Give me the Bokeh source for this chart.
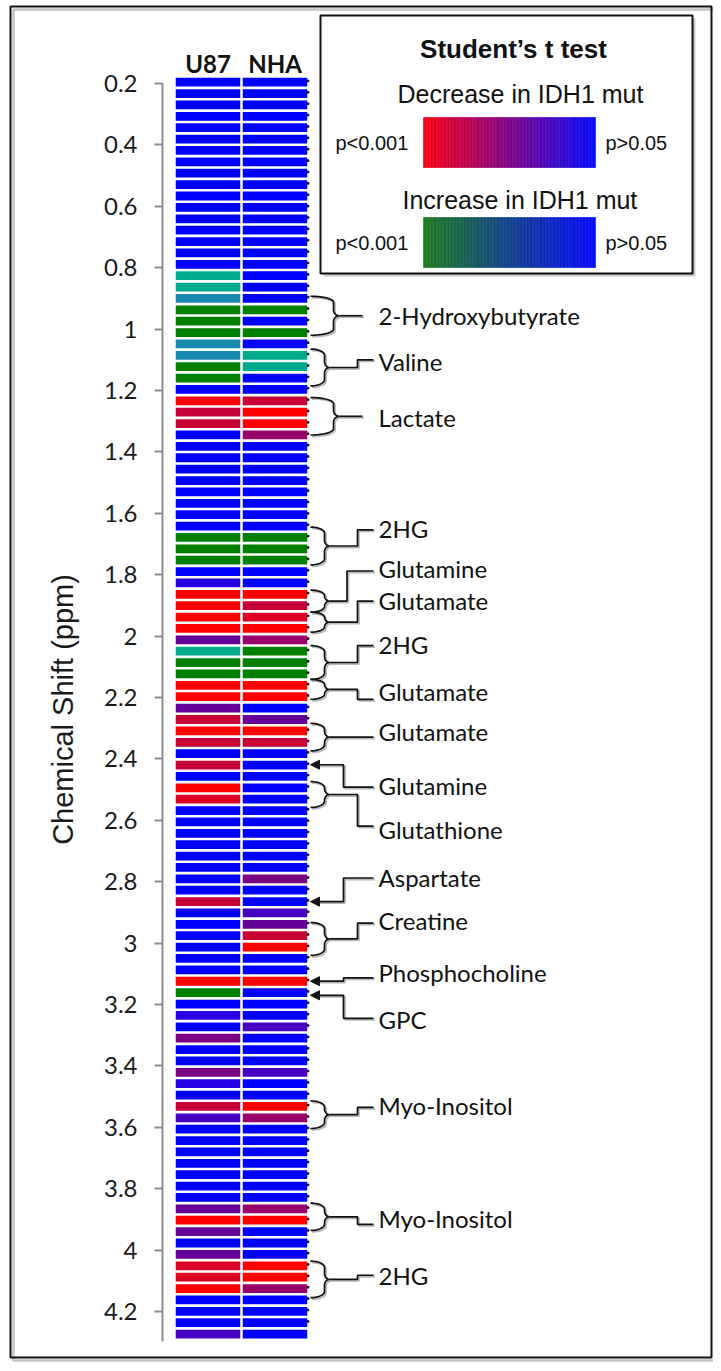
import numpy as np
from bokeh.plotting import figure
from bokeh.models import Range1d, FixedTicker, Arrow, NormalHead
from bokeh.embed import file_html
from bokeh.resources import INLINE
from bokeh.core.properties import value

# ---------------- data ----------------
samples = ["U87", "NHA"]
shift_start = 0.1772      # ppm at the upper edge of the first bucket
shift_step = 0.03707      # ppm per bucket
# significance class per bucket (top -> bottom)
u87_codes = list(
    "BBBBBBBBBB" "BBBBBBBTTS" "GGGSSGGBRC" "CBBBBBBBBB" "GGGBWRRRRP"
    "TGGRRPCRCB" "CBRDBBBBBB" "BBCBBBBBBR" "GBWBQBBQWB" "CVBBBBBBBP"
    "RPBPDDRBBB" "V")
nha_codes = list(
    "BBBBBBBBBB" "BBBBBBBBBB" "GBGBTTBBCR" "RMBBBBBBBB" "GGGBBRCDRM"
    "GGGRRBPRCB" "BBBBBBBBBB" "QBBVPCRBBR" "BBBVBBBVBB" "RMBBBBBBBM"
    "RBBBRRMBBB" "B")
class_colors = {
    "B": "#0000FF", "W": "#2600E2", "V": "#4600C2", "P": "#640098",
    "Q": "#7C0082", "M": "#98006A", "C": "#C80038", "D": "#DC0024",
    "R": "#FF0000", "G": "#007F00", "T": "#00AA8C", "S": "#1888AE",
}
tick_values = [0.2, 0.4, 0.6, 0.8, 1.0, 1.2, 1.4, 1.6, 1.8, 2.0, 2.2,
               2.4, 2.6, 2.8, 3.0, 3.2, 3.4, 3.6, 3.8, 4.0, 4.2]
tick_labels = ["0.2", "0.4", "0.6", "0.8", "1", "1.2", "1.4", "1.6", "1.8", "2", "2.2",
               "2.4", "2.6", "2.8", "3", "3.2", "3.4", "3.6", "3.8", "4", "4.2"]

# metabolite annotations: (name, kind, start ppm, end ppm, label ppm, connector ppm, style)
annotations = [
    ("2-Hydroxybutyrate", "brace", 0.893, 1.020, 0.957, None, "wide"),
    ("Valine", "brace", 1.065, 1.185, 1.106, 1.100, "narrow"),
    ("Lactate", "brace", 1.223, 1.345, 1.288, None, "wide"),
    ("2HG", "brace", 1.645, 1.768, 1.648, 1.654, "narrow"),
    ("Glutamine", "brace", 1.850, 1.922, 1.780, 1.788, "short"),
    ("Glutamate", "brace", 1.922, 1.987, 1.884, 1.886, "narrow"),
    ("2HG", "brace", 2.031, 2.141, 2.026, 2.031, "narrow"),
    ("Glutamate", "brace", 2.141, 2.206, 2.180, 2.206, "narrow"),
    ("Glutamate", "brace", 2.284, 2.374, 2.312, None, "long"),
    ("Glutamine", "arrow", 2.419, None, 2.486, 2.492, None),
    ("Glutathione", "brace", 2.474, 2.558, 2.630, 2.619, "narrow"),
    ("Aspartate", "arrow", 2.865, None, 2.785, 2.788, None),
    ("Creatine", "brace", 2.933, 3.040, 2.926, 2.935, "narrow"),
    ("Phosphocholine", "arrow", 3.124, None, 3.097, 3.113, None),
    ("GPC", "arrow", 3.170, None, 3.248, 3.245, None),
    ("Myo-Inositol", "brace", 3.514, 3.604, 3.529, 3.535, "narrow"),
    ("Myo-Inositol", "brace", 3.847, 3.936, 3.897, 3.916, "narrow"),
    ("2HG", "brace", 4.036, 4.155, 4.082, 4.082, "narrow"),
]

# ---------------- layout helpers (canvas px -> data) ----------------
COL_PX0, COL_PITCH = 207.5, 67.0
PPM_PX0, PX_PER_PPM = 83.0, 307.0

def X(px):
    return 1 + (px - COL_PX0) / COL_PITCH

def Y(py):
    return 0.2 + (py - PPM_PX0) / PX_PER_PPM

def PY(ppm):
    return PPM_PX0 + (ppm - 0.2) * PX_PER_PPM

W, H = 713, 1363
p = figure(width=W, height=H, output_backend="svg", toolbar_location=None,
           x_range=Range1d(X(0), X(W)), y_range=Range1d(Y(H), Y(0)),
           x_axis_location=None, y_axis_location="left",
           min_border_left=0, min_border_right=0, min_border_top=0, min_border_bottom=0,
           outline_line_color=None, background_fill_color="white", border_fill_color="white")
p.grid.visible = False

# ---------------- outer frame ----------------
p.quad(left=X(13), right=X(714), top=Y(9), bottom=Y(1360), fill_color=None,
       line_color="#c4c4c4", line_width=2.5)
p.quad(left=X(10), right=X(711), top=Y(6), bottom=Y(1357), fill_color=None,
       line_color="#111111", line_width=2)

# ---------------- heatmap ----------------
xs, ys, cols = [], [], []
for i, codes in enumerate([u87_codes, nha_codes]):
    for k, c in enumerate(codes):
        xs.append(i + 1)
        ys.append(shift_start + (k + 0.5) * shift_step)
        cols.append(class_colors[c])
p.rect(x=xs, y=ys, width=0.963, height=shift_step * 0.77, fill_color=cols, line_color=None)

# small dots on the right edge at bucket boundaries
nb = len(u87_codes)
bx = [len(samples) + 0.963 / 2 + 0.012] * (nb - 1)
by = [shift_start + k * shift_step + shift_step * 0.39 for k in range(nb - 1)]
p.scatter(x=bx, y=by, marker="square", size=1.6, color="#111111")

# column headers
p.text(x=[i + 1 for i in range(len(samples))], y=[Y(63)] * len(samples), text=samples,
       text_font=value("Lato"), text_font_style="bold", text_font_size="24px",
       text_align="center", text_baseline="middle", text_color="#111111")

# ---------------- y axis (drawn at a fixed position inside the frame) ----------------
ax = p.yaxis[0]
ax.fixed_location = X(162)
ax.ticker = FixedTicker(ticks=tick_values)
ax.major_label_overrides = {v: s for v, s in zip(tick_values, tick_labels)}
ax.bounds = (0.2, 4.298)
ax.axis_line_color = "#8c8c8c"
ax.axis_line_width = 2
ax.major_tick_line_color = "#8c8c8c"
ax.major_tick_line_width = 2
ax.major_tick_out = 8
ax.major_tick_in = 0
ax.minor_tick_line_color = None
ax.major_label_text_font = "Lato"
ax.major_label_text_font_size = "24px"
ax.major_label_text_color = "#1a1a1a"
ax.major_label_standoff = 17

p.text(x=[X(62)], y=[Y(709)], text=["Chemical Shift (ppm)"], angle=np.pi / 2,
       text_font=value("Liberation Sans"), text_font_size="29px",
       text_align="center", text_baseline="middle", text_color="#1a1a1a")

# ---------------- annotations (braces / arrows) ----------------
X0 = 310.0          # start of brace arms / arrow tip
LINE_END = 373.0
LABEL_X = 378.0

def brace_px(yt, yb, xs_, xp):
    ym = (yt + yb) / 2
    r = min(6.0, (yb - yt) / 4)
    t = np.linspace(0, np.pi / 2, 10)
    px, py = [], []
    px += list(X0 + (xs_ - X0) * np.sin(t)); py += list(yt + r - r * np.cos(t))
    px += list(xp - (xp - xs_) * np.cos(t)); py += list(ym - r + r * np.sin(t))
    px += list(xp - (xp - xs_) * np.sin(t)); py += list(ym + r - r * np.cos(t))
    px += list(X0 + (xs_ - X0) * np.cos(t)); py += list(yb - r + r * np.sin(t))
    return px, py, ym

lines_x, lines_y = [], []
arrows = []
lab_x, lab_y, lab_t = [], [], []
for name, kind, a, b, lab, conn, style in annotations:
    lab_x.append(X(LABEL_X)); lab_y.append(lab); lab_t.append(name)
    if kind == "brace":
        yt, yb = PY(a), PY(b)
        if style == "wide":
            sx, spx = 333.0, 339.0
        else:
            sx, spx = 324.0, 329.0
        bpx, bpy, ym = brace_px(yt, yb, sx, spx)
        lines_x.append(bpx); lines_y.append(bpy)
        if style == "wide":
            lines_x.append([spx, 362.0]); lines_y.append([ym, ym])
        elif style == "long":
            lines_x.append([spx, LINE_END]); lines_y.append([ym, ym])
        else:
            ex = 346.5 if style == "short" else 357.0
            cy = PY(conn)
            lines_x.append([spx, ex, ex, LINE_END]); lines_y.append([ym, ym, cy, cy])
    else:
        ty = PY(a)
        cy = PY(conn)
        ex = 343.0
        lines_x.append([X0 + 6, ex, ex, LINE_END]); lines_y.append([ty, ty, cy, cy])
        arrows.append((X0 + 8, ty))

p.multi_line(xs=[[X(v + 1.5) for v in lx] for lx in lines_x],
             ys=[[Y(v + 1.5) for v in ly] for ly in lines_y],
             line_color="#b8b8b8", line_width=1.8)
p.multi_line(xs=[[X(v) for v in lx] for lx in lines_x],
             ys=[[Y(v) for v in ly] for ly in lines_y],
             line_color="#111111", line_width=1.7)
for sx_, sy_ in arrows:
    p.add_layout(Arrow(end=NormalHead(size=9, fill_color="#111111", line_color="#111111"),
                       x_start=X(sx_), y_start=Y(sy_), x_end=X(X0), y_end=Y(sy_),
                       line_color="#111111", line_width=1.7))
p.text(x=lab_x, y=lab_y, text=lab_t, text_font=value("Lato"), text_font_size="24px",
       text_align="left", text_baseline="middle", text_color="#111111")

# ---------------- legend box ----------------
LB_L, LB_R, LB_T, LB_B = 320, 692, 15, 273
p.quad(left=X(LB_L + 3), right=X(LB_R + 3), top=Y(LB_T + 3), bottom=Y(LB_B + 3),
       fill_color="#c8c8c8", line_color=None)
p.quad(left=X(LB_L), right=X(LB_R), top=Y(LB_T), bottom=Y(LB_B),
       fill_color="white", line_color="#111111", line_width=2)
p.text(x=[X(513)], y=[Y(48)], text=["Student\u2019s t test"], text_font=value("Liberation Sans"),
       text_font_style="bold", text_font_size="26px", text_align="center",
       text_baseline="middle", text_color="#111111")
p.text(x=[X(397), X(402)], y=[Y(93), Y(199)], text=["Decrease in IDH1 mut", "Increase in IDH1 mut"],
       text_font=value("Liberation Sans"), text_font_size="25px", text_align="left",
       text_baseline="middle", text_color="#111111")
p.text(x=[X(335), X(335), X(605), X(605)], y=[Y(142), Y(242), Y(142), Y(242)],
       text=["p<0.001", "p<0.001", "p>0.05", "p>0.05"],
       text_font=value("Liberation Sans"), text_font_size="20px", text_align="left",
       text_baseline="middle", text_color="#111111")

def grad(c0, c1, y0, y1, n=120):
    fr = np.linspace(0, 1, n + 1)
    left = [X(423 + (595 - 423) * f) for f in fr[:-1]]
    right = [X(423 + (595 - 423) * f) for f in fr[1:]]
    cs = []
    for f in (fr[:-1] + fr[1:]) / 2:
        r = int(round(c0[0] + (c1[0] - c0[0]) * f))
        g = int(round(c0[1] + (c1[1] - c0[1]) * f))
        b = int(round(c0[2] + (c1[2] - c0[2]) * f))
        cs.append("#%02x%02x%02x" % (r, g, b))
    p.quad(left=left, right=right, top=[Y(y0)] * n, bottom=[Y(y1)] * n,
           fill_color=cs, line_color=cs, line_width=0.6)

grad((250, 0, 20), (5, 10, 250), 117, 167)
grad((30, 122, 30), (5, 10, 250), 217, 267)

open("out.html", "w").write(file_html(p, INLINE))
